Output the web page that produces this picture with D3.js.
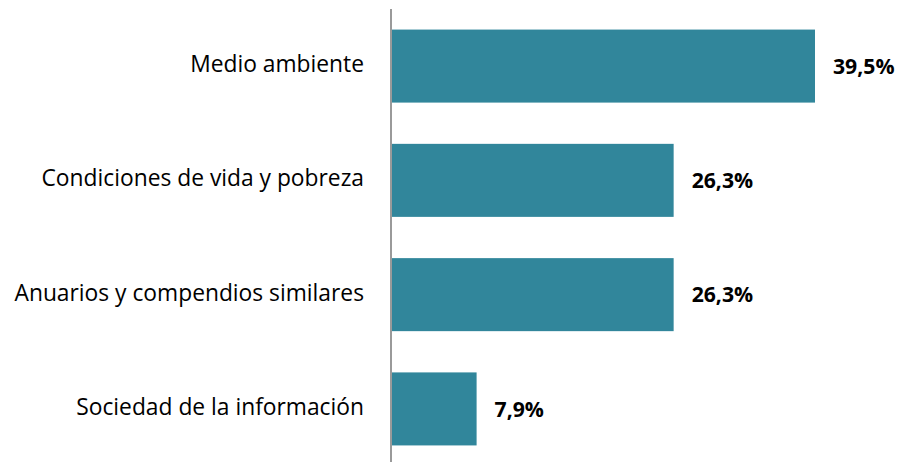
<!DOCTYPE html>
<html lang="es">
<head>
  <meta charset="UTF-8">
  <style>
body {
    margin: 0;
    background: #fff;
    font-family: "Open Sans", Lato, sans-serif;
}
.cat-label {
    fill: #000;
    font-size: 22.8px;
    text-anchor: end;
    dominant-baseline: middle;
}
.value-label {
    fill: #000;
    font-size: 21.2px;
    font-weight: 700;
    dominant-baseline: middle;
}
  </style>
  <title>Chart</title>
</head>
<body>
<div id="wrapper"></div>
<script src="https://cdnjs.cloudflare.com/ajax/libs/d3/7.8.5/d3.min.js"></script>
<script>
  const categories = ["Medio ambiente", "Condiciones de vida y pobreza", "Anuarios y compendios similares", "Sociedad de la información"]
  const values = [39.5, 26.3, 26.3, 7.9]
  const valueLabels = ["39,5%", "26,3%", "26,3%", "7,9%"]

  function drawBarChart() {
    const dimensions = {
      width: 904,
      height: 462,
      axisX: 391,
      top: 9,
      bottom: 466,
    }

    const svg = d3.select("#wrapper")
      .append("svg")
      .attr("width", dimensions.width)
      .attr("height", dimensions.height)

    const xScale = d3.scaleLinear()
      .domain([0, 39.5])
      .range([dimensions.axisX + 1, 815])

    const yScale = d3.scaleBand()
      .domain(categories)
      .range([dimensions.top, dimensions.bottom])
      .paddingInner(0.361)
      .paddingOuter(0.18)

    svg.selectAll(".bar")
      .data(categories)
      .enter().append("rect")
        .attr("class", "bar")
        .attr("x", xScale(0))
        .attr("y", d => yScale(d))
        .attr("width", (d, i) => xScale(values[i]) - xScale(0))
        .attr("height", yScale.bandwidth())
        .attr("fill", "#31869b")

    // category axis line
    svg.append("line")
      .attr("x1", dimensions.axisX)
      .attr("x2", dimensions.axisX)
      .attr("y1", dimensions.top)
      .attr("y2", dimensions.bottom)
      .attr("stroke", "#9a9a9a")
      .attr("stroke-width", 2)

    svg.selectAll(".cat-label")
      .data(categories)
      .enter().append("text")
        .attr("class", "cat-label")
        .attr("x", dimensions.axisX - 27)
        .attr("y", d => yScale(d) + yScale.bandwidth() / 2)
        .text(d => d)

    svg.selectAll(".value-label")
      .data(categories)
      .enter().append("text")
        .attr("class", "value-label")
        .attr("x", (d, i) => xScale(values[i]) + 18)
        .attr("y", d => yScale(d) + yScale.bandwidth() / 2 + 2)
        .text((d, i) => valueLabels[i])
  }
  drawBarChart();
</script>
</body>
</html>
